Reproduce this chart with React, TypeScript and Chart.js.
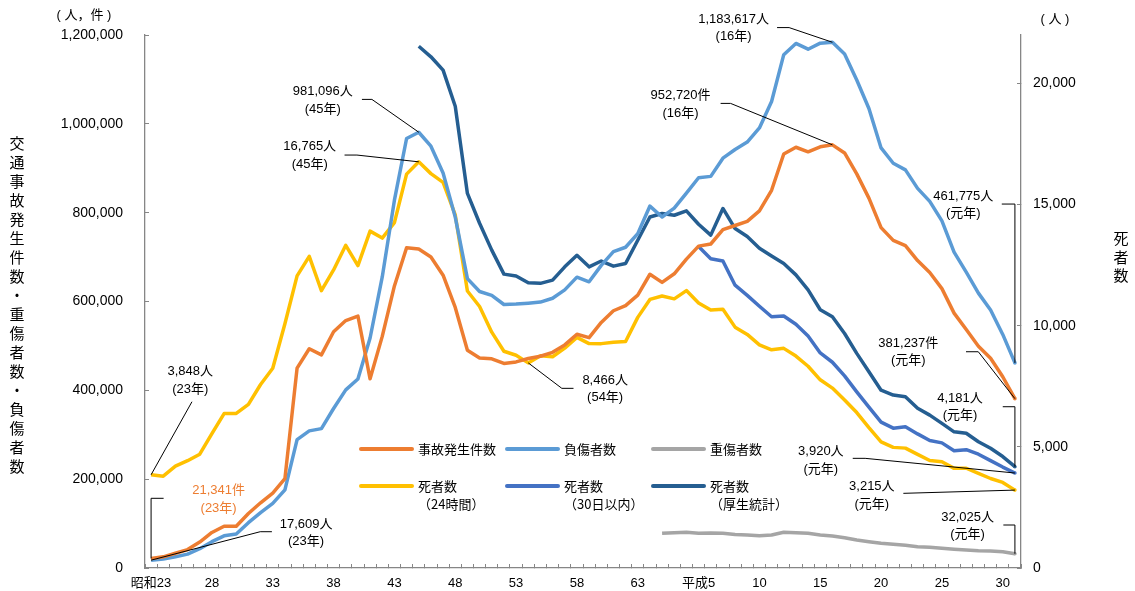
import React, { useEffect, useRef } from 'react';
import { Chart, registerables } from 'chart.js';

Chart.register(...registerables);

const FONT = "'Liberation Sans', 'Noto Sans CJK JP', sans-serif";
const CJK = "'Noto Sans CJK JP', sans-serif";

// ---- categories: 昭和23 (1948) … 令和元 (2019)
const categories = [
  '昭和23', '昭和24', '昭和25', '昭和26', '昭和27', '昭和28', '昭和29', '昭和30', '昭和31', '昭和32',
  '昭和33', '昭和34', '昭和35', '昭和36', '昭和37', '昭和38', '昭和39', '昭和40', '昭和41', '昭和42',
  '昭和43', '昭和44', '昭和45', '昭和46', '昭和47', '昭和48', '昭和49', '昭和50', '昭和51', '昭和52',
  '昭和53', '昭和54', '昭和55', '昭和56', '昭和57', '昭和58', '昭和59', '昭和60', '昭和61', '昭和62',
  '昭和63', '平成元', '平成2', '平成3', '平成4', '平成5', '平成6', '平成7', '平成8', '平成9',
  '平成10', '平成11', '平成12', '平成13', '平成14', '平成15', '平成16', '平成17', '平成18', '平成19',
  '平成20', '平成21', '平成22', '平成23', '平成24', '平成25', '平成26', '平成27', '平成28', '平成29',
  '平成30', '令和元',
];

// shown every 5th category
const xTickLabels = ['昭和23', '28', '33', '38', '43', '48', '53', '58', '63', '平成5', '10', '15', '20', '25', '30'];
const leftTicks = [0, 200000, 400000, 600000, 800000, 1000000, 1200000];
const rightTicks = [0, 5000, 10000, 15000, 20000];

// ---- series (left axis)
const accidents = [
  21341, 25113, 33212, 41423, 58487, 80019, 93869, 93981, 122691, 146833,
  168799, 201292, 449917, 493693, 479825, 531966, 557183, 567286, 425944, 521481,
  635056, 720880, 718080, 700290, 659283, 586713, 490452, 472938, 471041, 460649,
  464037, 471573, 476677, 485578, 502261, 526362, 518642, 552788, 579190, 590723,
  614481, 661363, 643097, 662388, 695346, 724675, 729461, 761794, 771085, 780401,
  803882, 850371, 931950, 947253, 936950, 948281, 952720, 934346, 887267, 832704,
  766394, 737637, 725924, 692084, 665157, 629033, 573842, 536899, 499201, 472165,
  430601, 381237,
];

const injured = [
  17609, 20242, 25450, 31274, 43321, 59280, 72390, 76501, 102072, 124530,
  145432, 175951, 289156, 308697, 313813, 359089, 401117, 425666, 517775, 655377,
  828071, 967000, 981096, 949689, 889198, 789948, 651420, 622467, 613957, 593211,
  594116, 596282, 598719, 607346, 626192, 654822, 644321, 681346, 712330, 722179,
  752845, 814832, 790295, 810245, 844003, 878633, 881723, 922677, 942204, 958925,
  990675, 1050399, 1155707, 1181039, 1168029, 1181681, 1183617, 1157113, 1098564, 1034652,
  945703, 911215, 896297, 854613, 825392, 781492, 711374, 666023, 618853, 580850,
  525846, 461775,
];

// 重傷者数: 平成2 (1990) – 令和元 (2019)
const seriousStart = 42;
const serious = [
  78000, 79500, 80300, 78500, 79000, 78000, 75500, 74500, 72500, 74300,
  80300, 79500, 78000, 74300, 72000, 68200, 63000, 59200, 55600, 53300,
  51100, 47900, 46600, 44300, 42100, 40500, 38900, 38200, 36700, 32025,
];

// ---- series (right axis)
const deaths24 = [
  3848, 3790, 4202, 4429, 4696, 5544, 6374, 6379, 6751, 7575,
  8248, 10079, 12055, 12865, 11445, 12301, 13318, 12484, 13904, 13618,
  14256, 16257, 16765, 16278, 15918, 14574, 11432, 10792, 9734, 8945,
  8783, 8466, 8760, 8719, 9073, 9520, 9262, 9261, 9317, 9347,
  10344, 11086, 11227, 11109, 11451, 10942, 10649, 10684, 9942, 9640,
  9211, 9006, 9066, 8747, 8326, 7768, 7425, 6937, 6415, 5796,
  5209, 4979, 4948, 4691, 4438, 4388, 4113, 4117, 3904, 3694,
  3532, 3215,
];

// 30日以内: 平成5 (1993) – 令和元
const deaths30Start = 45;
const deaths30 = [
  13269, 12768, 12670, 11674, 11254, 10805, 10372, 10403, 10060, 9575,
  8877, 8492, 7931, 7272, 6639, 6023, 5772, 5828, 5535, 5261,
  5165, 4838, 4885, 4698, 4431, 4166, 3920,
];

// 厚生統計: 昭和45 (1970) – 令和元
const deathsVitalStart = 22;
const deathsVital = [
  21535, 21100, 20550, 19060, 15460, 14230, 13120, 12130, 12050, 11770,
  11750, 11880, 12430, 12910, 12430, 12670, 12460, 12570, 13530, 14490,
  14630, 14560, 14740, 14190, 13740, 14840, 14010, 13680, 13200, 12880,
  12570, 12100, 11480, 10660, 10370, 9680, 8860, 8100, 7340, 7140,
  7070, 6590, 6310, 5970, 5620, 5560, 5210, 4940, 4600, 4181,
];

const legendLabels: string[][] = [
  ['事故発生件数'],
  ['負傷者数'],
  ['重傷者数'],
  ['死者数', '（24時間）'],
  ['死者数', '（30日以内）'],
  ['死者数', '（厚生統計）'],
];

const COLORS = {
  accidents: '#ED7D31',
  injured: '#5B9BD5',
  serious: '#A5A5A5',
  d24: '#FFC000',
  d30: '#4472C4',
  vital: '#255E91',
};
const AXIS = '#868686';

// callouts: target = series point; text / leader positions in data space [categoryIndex, left-axis value]
type Ann = {
  key: string;
  index: number;
  text: string[];
  at: [number, number];
  lead: [number, number][];
  color?: string;
};
const annotations: Ann[] = [
  { key: 'injured', index: 56, text: ['1,183,617人', '(16年)'], at: [47.88, 1235800], lead: [[51.45, 1216700], [52.44, 1216700]] },
  { key: 'accidents', index: 56, text: ['952,720件', '(16年)'], at: [43.52, 1063100], lead: [[46.81, 1046000], [47.63, 1046000]] },
  { key: 'injured', index: 22, text: ['981,096人', '(45年)'], at: [14.11, 1072100], lead: [[17.33, 1055000], [18.15, 1055000]] },
  { key: 'd24', index: 22, text: ['16,765人', '(45年)'], at: [13.04, 948300], lead: [[15.9, 929700], [16.92, 929700]] },
  { key: 'd24', index: 0, text: ['3,848人', '(23年)'], at: [3.22, 441900], lead: [[3.36, 374300]] },
  { key: 'accidents', index: 0, text: ['21,341件', '(23年)'], at: [5.55, 174000], lead: [[1.03, 156900], [0, 156900]], color: COLORS.accidents },
  { key: 'injured', index: 0, text: ['17,609人', '(23年)'], at: [12.74, 99000], lead: [[9.93, 81700], [8.97, 81700]] },
  { key: 'd24', index: 31, text: ['8,466人', '(54年)'], at: [37.32, 423200], lead: [[34.72, 404500], [33.76, 404500]] },
  { key: 'injured', index: 71, text: ['461,775人', '(元年)'], at: [66.76, 837400], lead: [[69.92, 819400], [71, 819400]] },
  { key: 'accidents', index: 71, text: ['381,237件', '(元年)'], at: [62.24, 505800], lead: [[66.98, 486900], [67.99, 486900]] },
  { key: 'vital', index: 71, text: ['4,181人', '(元年)'], at: [66.49, 382000], lead: [[70.0, 363100], [71, 363100]] },
  { key: 'd30', index: 71, text: ['3,920人', '(元年)'], at: [55.05, 261800], lead: [[57.67, 246900], [58.69, 246900]] },
  { key: 'd24', index: 71, text: ['3,215人', '(元年)'], at: [59.24, 183000], lead: [[61.83, 168100]] },
  { key: 'serious', index: 71, text: ['32,025人', '(元年)'], at: [67.11, 114100], lead: [[70.05, 96800], [71, 96800]] },
];

const pad = (start: number, arr: number[]) => (Array(start).fill(null) as (number | null)[]).concat(arr);

const overlayPlugin = {
  id: 'overlay',
  afterDraw(chart: any) {
    const { ctx, scales } = chart;
    const xS = scales.x;
    const yL = scales.y;
    const datasets = chart.data.datasets;
    ctx.save();

    // axis titles (vertical)
    ctx.fillStyle = '#000';
    ctx.textAlign = 'center';
    ctx.textBaseline = 'middle';
    ctx.font = `15px ${CJK}`;
    const leftTitle = '交通事故発生件数・重傷者数・負傷者数';
    Array.from(leftTitle).forEach((ch, i) => ctx.fillText(ch, 17, 143.5 + i * 18.98));
    const rightTitle = '死者数';
    Array.from(rightTitle).forEach((ch, i) => ctx.fillText(ch, 1121, 238.5 + i * 18.6));

    // units
    ctx.font = `13px ${FONT}`;
    ctx.fillText('( 人，件 )', 84, 15);
    ctx.fillText('( 人 )', 1055, 19);

    // callouts
    ctx.font = `13px ${FONT}`;
    annotations.forEach((a) => {
      const ds = datasets.find((d: any) => d.key === a.key);
      const yScale = scales[ds.yAxisID];
      const tx = xS.getPixelForValue(a.index);
      const ty = yScale.getPixelForValue(ds.data[a.index]);
      ctx.strokeStyle = '#000';
      ctx.lineWidth = 1;
      ctx.beginPath();
      a.lead.forEach(([i, v], k) => {
        const px = xS.getPixelForValue(i);
        const py = yL.getPixelForValue(v);
        if (k === 0) ctx.moveTo(px, py);
        else ctx.lineTo(px, py);
      });
      ctx.lineTo(tx, ty);
      ctx.stroke();
      const lx = xS.getPixelForValue(a.at[0]);
      const ly = yL.getPixelForValue(a.at[1]);
      ctx.fillStyle = a.color || '#000';
      a.text.forEach((t, k) => ctx.fillText(t, lx, ly + k * 17.5));
    });

    // legend (2 rows x 3 cols)
    const colX = [361, 507, 653];
    const rowY = [449, 486];
    ctx.textAlign = 'left';
    ctx.font = `13px ${CJK}`;
    datasets.forEach((d: any, i: number) => {
      const x = colX[i % 3];
      const y = rowY[Math.floor(i / 3)];
      ctx.strokeStyle = d.borderColor;
      ctx.lineWidth = 4;
      ctx.lineCap = 'round';
      ctx.beginPath();
      ctx.moveTo(x, y);
      ctx.lineTo(x + 51, y);
      ctx.stroke();
      ctx.fillStyle = '#000';
      legendLabels[i].forEach((t, k) => ctx.fillText(t, x + 57, y + k * 18));
    });
    ctx.restore();
  },
};

export default function App() {
  const ref = useRef<HTMLCanvasElement>(null);

  useEffect(() => {
    const lastPoint = (ctx: any) => (ctx.dataIndex === categories.length - 1 ? 1.8 : 0);
    const mk = (key: string, data: (number | null)[], yAxisID: string) => ({
      key,
      data,
      yAxisID,
      borderColor: (COLORS as any)[key],
      backgroundColor: (COLORS as any)[key],
      borderWidth: 3.5,
      pointRadius: lastPoint,
      pointHoverRadius: 0,
      pointBorderWidth: 0,
      tension: 0,
      borderJoinStyle: 'round',
      fill: false,
    });

    const noVPad = (s: any, w: number) => {
      s.width = w;
      s.paddingTop = 0;
      s.paddingBottom = 0;
    };

    const chart = new Chart(ref.current as HTMLCanvasElement, {
      type: 'line',
      data: {
        labels: categories,
        datasets: [
          mk('accidents', accidents, 'y'),
          mk('injured', injured, 'y'),
          mk('serious', pad(seriousStart, serious), 'y'),
          mk('d24', deaths24, 'y1'),
          mk('d30', pad(deaths30Start, deaths30), 'y1'),
          mk('vital', pad(deathsVitalStart, deathsVital), 'y1'),
        ] as any,
      },
      options: {
        animation: false,
        responsive: true,
        maintainAspectRatio: false,
        layout: { padding: { top: 35, left: 0, right: 0, bottom: 0 } },
        plugins: { legend: { display: false }, tooltip: { enabled: false } },
        events: [],
        scales: {
          x: {
            type: 'category',
            offset: true,
            grid: { offset: true, drawOnChartArea: false, drawTicks: true, tickLength: -4, color: AXIS, lineWidth: 1 },
            border: { color: AXIS, width: 1.3 },
            ticks: {
              autoSkip: false,
              maxRotation: 0,
              minRotation: 0,
              padding: 12,
              color: '#000',
              font: { family: FONT, size: 13 },
              callback: (_v: any, i: number) => (i % 5 === 0 ? xTickLabels[i / 5] ?? '' : ''),
            },
            afterFit: (s: any) => {
              s.height = 23;
            },
          },
          y: {
            position: 'left',
            min: 0,
            max: 1200000,
            grid: { drawOnChartArea: false, tickLength: -4, color: AXIS },
            border: { color: AXIS, width: 1.3 },
            ticks: {
              padding: 26,
              color: '#000',
              font: { family: FONT, size: 14 },
              callback: (v: any) => Number(v).toLocaleString('en-US'),
            },
            afterBuildTicks: (s: any) => {
              s.ticks = leftTicks.map((value) => ({ value }));
            },
            afterFit: (s: any) => noVPad(s, 145),
          },
          y1: {
            position: 'right',
            min: 0,
            max: 22000,
            grid: { drawOnChartArea: false, tickLength: -4, color: AXIS },
            border: { color: AXIS, width: 1.3 },
            ticks: {
              padding: 16,
              color: '#000',
              font: { family: FONT, size: 14 },
              callback: (v: any) => Number(v).toLocaleString('en-US'),
            },
            afterBuildTicks: (s: any) => {
              s.ticks = rightTicks.map((value) => ({ value }));
            },
            afterFit: (s: any) => noVPad(s, 114),
          },
        },
      } as any,
      plugins: [overlayPlugin],
    });
    return () => chart.destroy();
  }, []);

  return (
    <div style={{ position: 'fixed', left: 0, top: 0, width: 1135, height: 591, background: '#fff' }}>
      <canvas ref={ref} />
    </div>
  );
}
